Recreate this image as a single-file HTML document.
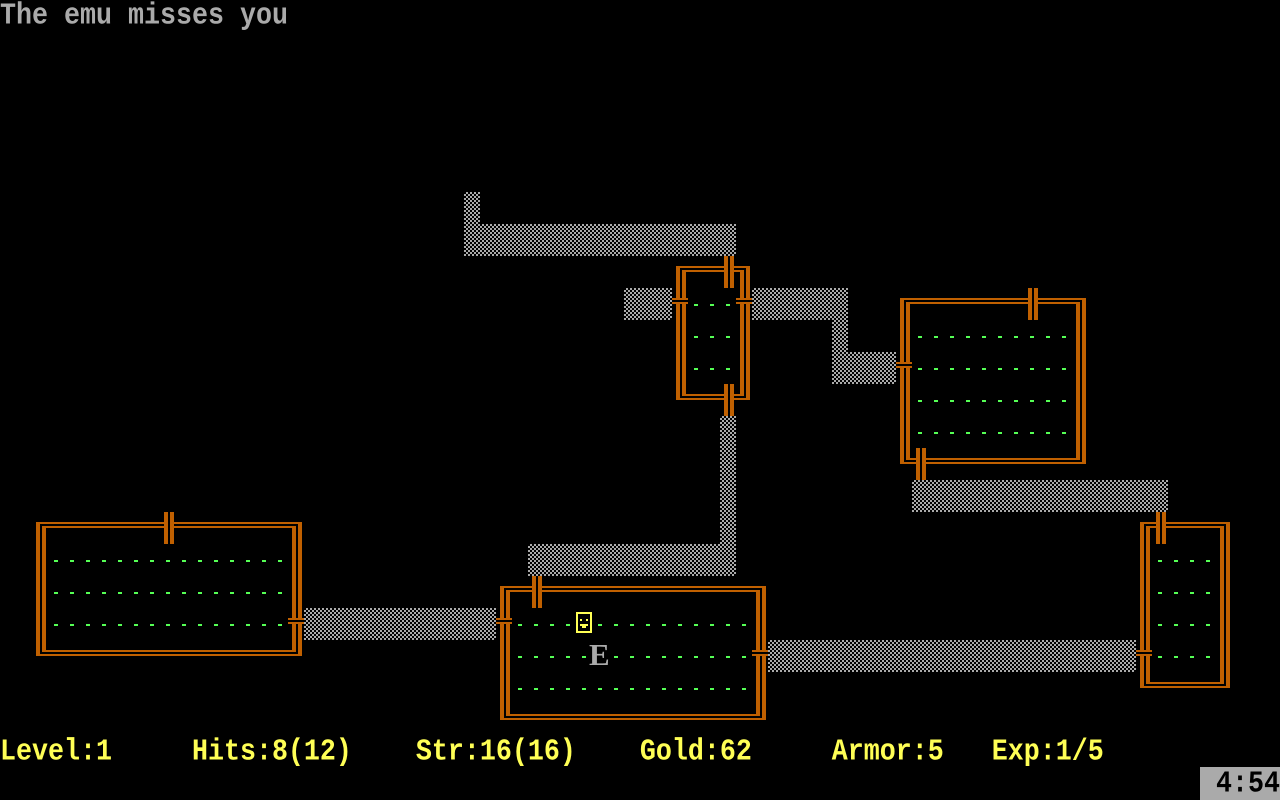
<!DOCTYPE html>
<html><head><meta charset="utf-8"><style>
html,body{margin:0;padding:0;background:#000;}
#s{position:relative;width:1280px;height:800px;overflow:hidden;background:#000;}
.t{position:absolute;font-family:"Liberation Mono",monospace;font-size:26.67px;line-height:32px;white-space:pre;font-weight:bold;transform-origin:0 0;transform:scaleY(1.15);}
.r{position:absolute;}
.c{position:absolute;width:16px;height:32px;background:repeating-conic-gradient(#aaa 0 25%,#000 0 50%) 0 0/4px 4px;}
</style></head><body><div id="s">
<div class="t" style="left:0;top:-2px;color:#aaa">The emu misses you</div>
<div class="t" style="left:0;top:734px;color:#ffff55">Level:1     Hits:8(12)    Str:16(16)    Gold:62     Armor:5   Exp:1/5</div>
<div class="r" style="left:1200px;top:767px;width:80px;height:33px;background:#aaa"></div>
<div class="t" style="left:1216px;top:766px;color:#000">4:54</div>
</div>
<script>
var s=document.getElementById('s'),W='#c06000';
function R(x,y,w,h,c){var d=document.createElement('div');d.className='r';d.style.cssText='left:'+x+'px;top:'+y+'px;width:'+w+'px;height:'+h+'px;background:'+c;s.appendChild(d);}
function room(c1,r1,c2,r2){
 var x1=16*c1+4,y1=32*r1+10,x2=16*c2+14,y2=32*r2+16;
 R(x1,y1,x2-x1,2,W);R(x1,y2-2,x2-x1,2,W);R(x1,y1,4,y2-y1,W);R(x2-4,y1,4,y2-y1,W);
 var a=16*c1+10,b=32*r1+14,e=16*c2+8,f=32*r2+12;
 R(a,b,e-a,2,W);R(a,f-2,e-a,2,W);R(a,b,4,f-b,W);R(e-4,b,4,f-b,W);
}
function vd(c,r){R(16*c+4,32*r,10,32,'#000');R(16*c+4,32*r,4,32,W);R(16*c+10,32*r,4,32,W);}
function hd(c,r){R(16*c,32*r+10,16,6,'#000');R(16*c,32*r+10,16,2,W);R(16*c,32*r+14,16,2,W);}
function dots(c1,r1,c2,r2,skip){for(var r=r1;r<=r2;r++)for(var c=c1;c<=c2;c++){if(skip&&skip[c+','+r])continue;R(16*c+6,32*r+16,4,2,'#55ff55');}}
function cor(c1,r1,c2,r2){for(var r=r1;r<=r2;r++)for(var c=c1;c<=c2;c++){var d=document.createElement('div');d.className='c';d.style.left=16*c+'px';d.style.top=32*r+'px';s.appendChild(d);}}
cor(29,6,29,6);cor(29,7,45,7);cor(39,9,41,9);cor(47,9,52,9);cor(52,10,52,10);cor(52,11,55,11);
cor(45,13,45,16);cor(33,17,45,17);cor(57,15,72,15);cor(19,19,30,19);cor(48,20,70,20);
room(42,8,46,12);vd(45,8);vd(45,12);hd(42,9);hd(46,9);dots(43,9,45,11);
room(56,9,67,14);vd(64,9);hd(56,11);vd(57,14);dots(57,10,66,13);
room(71,16,76,21);vd(72,16);hd(71,20);dots(72,17,75,20);
room(2,16,18,20);vd(10,16);hd(18,19);dots(3,17,17,19);
room(31,18,47,22);vd(33,18);hd(31,19);hd(47,20);dots(32,19,46,21,{'36,19':1,'37,20':1});
// player
R(576,612,16,21,'#ffff55');R(578,614,12,17,'#000');R(580,619,2,2,'#ffff55');R(586,619,2,2,'#ffff55');R(580,624,8,2,'#ffff55');R(582,626,4,2,'#ffff55');
var e=document.createElement('div');e.style.cssText='position:absolute;left:589px;top:639px;width:20px;text-align:center;font-family:"Liberation Serif",serif;font-weight:bold;font-size:31px;line-height:32px;color:#aaa';e.textContent='E';s.appendChild(e);
</script>
</body></html>
